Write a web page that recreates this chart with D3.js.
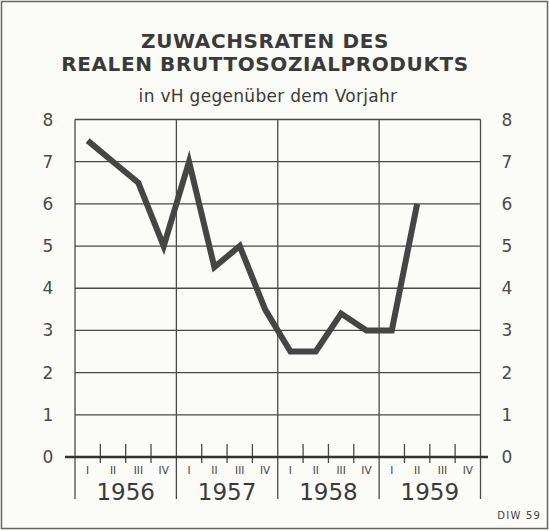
<!DOCTYPE html>
<html>
<head>
<meta charset="utf-8">
<script src="https://cdn.jsdelivr.net/npm/d3@7"></script>
<style>
  body { margin: 0; background: #fff; }
  svg { display: block; }
  text { font-family: "DejaVu Sans", sans-serif; fill: #3a3a3a; }
</style>
</head>
<body>
<div id="chart"></div>
<script>
// quarterly growth rates, 1956 Q1 .. 1959 Q2
const years = [1956, 1957, 1958, 1959];
const quarters = ['I', 'II', 'III', 'IV'];
const growth = [7.5, 7.0, 6.5, 5.0, 7.0, 4.5, 5.0, 3.5, 2.5, 2.5, 3.4, 3.0, 3.0, 6.0];
const yTicks = [0, 1, 2, 3, 4, 5, 6, 7, 8];
const titleLines = ['ZUWACHSRATEN DES', 'REALEN BRUTTOSOZIALPRODUKTS'];
const subtitle = 'in vH gegenüber dem Vorjahr';
const source = 'DIW 59';

const width = 549, height = 531;

const svg = d3.select('#chart')
  .append('svg')
  .attr('width', width)
  .attr('height', height);

// paper + frame
svg.append('rect')
  .attr('width', width).attr('height', height)
  .attr('fill', '#fbfbf8');
svg.append('rect')
  .attr('x', 1.5).attr('y', 1.5)
  .attr('width', width - 3).attr('height', height - 4)
  .attr('fill', 'none').attr('stroke', '#666').attr('stroke-width', 1.5);

const x = d3.scaleLinear()
  .domain([0, years.length * 4])
  .range([75, 480.5]);
const y = d3.scaleLinear()
  .domain([0, 8])
  .range([457, 119.5]);

// title
svg.selectAll('.title')
  .data(titleLines)
  .enter()
  .append('text')
  .attr('class', 'title')
  .attr('x', 265)
  .attr('y', (d, i) => 48 + i * 23)
  .attr('text-anchor', 'middle')
  .style('font-size', '20px')
  .style('font-weight', 'bold')
  .style('letter-spacing', '0.6px')
  .text(d => d);

svg.append('text')
  .attr('x', 268)
  .attr('y', 102)
  .attr('text-anchor', 'middle')
  .style('font-size', '17px')
  .style('letter-spacing', '0.3px')
  .text(subtitle);

// grid
const grid = svg.append('g')
  .attr('stroke', '#4a4a4a')
  .attr('stroke-width', 1.3);

grid.selectAll('.hline')
  .data(yTicks.filter(d => d > 0))
  .enter()
  .append('line')
  .attr('x1', x(0)).attr('x2', x(16))
  .attr('y1', d => y(d)).attr('y2', d => y(d));

grid.selectAll('.vline')
  .data(d3.range(years.length + 1))
  .enter()
  .append('line')
  .attr('x1', d => x(d * 4)).attr('x2', d => x(d * 4))
  .attr('y1', y(8)).attr('y2', 499);

// quarter ticks
const qTicks = d3.range(16).filter(i => i % 4 !== 0);
grid.selectAll('.qtick')
  .data(qTicks)
  .enter()
  .append('line')
  .attr('x1', d => x(d)).attr('x2', d => x(d))
  .attr('y1', y(0) - 13).attr('y2', y(0) + 6);

// zero line
svg.append('line')
  .attr('x1', 65).attr('x2', 488)
  .attr('y1', y(0)).attr('y2', y(0))
  .attr('stroke', '#333')
  .attr('stroke-width', 2.6);

// y labels both sides
[48, 507].forEach(lx => {
  svg.append('g')
    .selectAll('text')
    .data(yTicks)
    .enter()
    .append('text')
    .attr('x', lx)
    .attr('y', d => y(d) + 6)
    .attr('text-anchor', 'middle')
    .style('font-size', '17px')
    .style('fill', '#4a4a4a')
    .text(d => d);
});

// quarter labels
const qLabels = [];
years.forEach((yr, i) => quarters.forEach((q, j) => qLabels.push({ q, pos: i * 4 + j + 0.5 })));
svg.append('g')
  .selectAll('text')
  .data(qLabels)
  .enter()
  .append('text')
  .attr('x', d => x(d.pos))
  .attr('y', 474)
  .attr('text-anchor', 'middle')
  .style('font-size', '10.5px')
  .style('fill', '#444')
  .text(d => d.q);

// year labels
svg.append('g')
  .selectAll('text')
  .data(years)
  .enter()
  .append('text')
  .attr('x', (d, i) => x(i * 4 + 2))
  .attr('y', 500)
  .attr('text-anchor', 'middle')
  .style('font-size', '23px')
  .text(d => d);

// growth line
const line = d3.line()
  .x((d, i) => x(i + 0.5))
  .y(d => y(d));

svg.append('path')
  .datum(growth)
  .attr('fill', 'none')
  .attr('stroke', '#454545')
  .attr('stroke-width', 6)
  .attr('stroke-linejoin', 'miter')
  .attr('d', line);

// source note
svg.append('text')
  .attr('x', 541)
  .attr('y', 519)
  .attr('text-anchor', 'end')
  .style('font-size', '10px')
  .style('letter-spacing', '1.2px')
  .style('fill', '#444')
  .text(source);
</script>
</body>
</html>
